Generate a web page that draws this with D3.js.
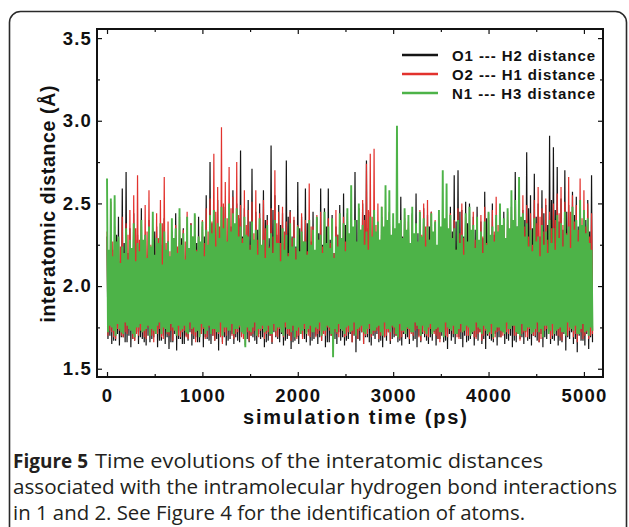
<!DOCTYPE html>
<html><head><meta charset="utf-8">
<script src="https://cdn.jsdelivr.net/npm/d3@7/dist/d3.min.js"></script>
<style>
html,body{margin:0;padding:0;background:#fff;}
svg{display:block;}
</style></head>
<body>
<svg id="chart" width="629" height="527"></svg>
<script>
// ---------- data ----------
const xTicks = [0, 1000, 2000, 3000, 4000, 5000];
const yTicks = [1.5, 2.0, 2.5, 3.0, 3.5];
const seriesNames = ["O1 --- H2 distance", "O2 --- H1 distance", "N1 --- H3 distance"];
const seriesColors = ["#151515", "#e2322d", "#4db348"];
const binStep = 20; // ps between successive peak/trough pairs

// O1---H2 : local maximum / minimum in each 20 ps bin
const o1Peaks = [2.30,2.18,2.38,2.22,2.27,2.31,2.42,2.15,2.59,2.26,2.69,2.20,2.35,2.12,2.44,2.28,2.31,2.17,2.47,2.24,
2.29,2.14,2.40,2.21,2.25,2.33,2.36,2.16,2.30,2.25,2.41,2.19,2.27,2.13,2.33,2.23,2.44,2.18,2.26,2.29,
2.35,2.15,2.29,2.22,2.38,2.17,2.31,2.26,2.42,2.20,2.36,2.30,2.55,2.24,2.75,2.38,2.46,2.21,2.52,2.33,
2.40,2.19,2.48,2.27,2.44,2.36,2.58,2.22,2.50,2.41,2.82,2.30,2.47,2.25,2.52,2.39,2.71,2.28,2.45,2.34,
2.50,2.23,2.58,2.40,2.43,2.29,2.85,2.46,2.55,2.31,2.49,2.37,2.44,2.26,2.76,2.42,2.46,2.30,2.40,2.24,
2.63,2.35,2.42,2.21,2.59,2.38,2.38,2.27,2.45,2.19,2.41,2.32,2.59,2.25,2.47,2.36,2.59,2.28,2.43,2.20,
2.36,2.31,2.49,2.24,2.56,2.37,2.44,2.26,2.38,2.33,2.69,2.40,2.47,2.29,2.50,2.43,2.76,2.35,2.45,2.27,
2.40,2.21,2.33,2.18,2.42,2.25,2.37,2.16,2.45,2.23,2.31,2.14,2.39,2.22,2.54,2.30,2.41,2.19,2.35,2.26,
2.44,2.17,2.56,2.32,2.40,2.21,2.47,2.28,2.43,2.36,2.45,2.20,2.38,2.15,2.32,2.24,2.41,2.18,2.36,2.27,
2.48,2.33,2.67,2.39,2.70,2.45,2.46,2.30,2.51,2.38,2.50,2.26,2.42,2.34,2.48,2.22,2.39,2.29,2.57,2.41,
2.44,2.25,2.50,2.31,2.41,2.20,2.37,2.27,2.45,2.18,2.40,2.33,2.48,2.24,2.69,2.36,2.52,2.28,2.46,2.40,
2.81,2.47,2.55,2.35,2.68,2.42,2.50,2.30,2.58,2.44,2.49,2.37,2.91,2.52,2.84,2.46,2.72,2.39,2.53,2.34,
2.70,2.45,2.49,2.31,2.57,2.43,2.54,2.36,2.47,2.29,2.45,2.40,2.52,2.33,2.67];
const o1Troughs = [1.68,1.70,1.65,1.67,1.67,1.71,1.64,1.69,1.69,1.66,1.66,1.70,1.63,1.68,1.67,1.72,1.65,1.69,1.68,1.66,
1.64,1.70,1.66,1.68,1.69,1.71,1.63,1.67,1.67,1.70,1.65,1.69,1.62,1.66,1.66,1.71,1.61,1.68,1.68,1.65,
1.65,1.70,1.67,1.72,1.64,1.68,1.69,1.66,1.66,1.71,1.63,1.69,1.68,1.67,1.65,1.70,1.67,1.68,1.61,1.72,
1.66,1.69,1.64,1.67,1.68,1.71,1.65,1.69,1.67,1.66,1.70,1.72,1.64,1.68,1.66,1.70,1.69,1.67,1.65,1.71,
1.68,1.69,1.63,1.66,1.67,1.70,1.65,1.72,1.69,1.68,1.66,1.71,1.64,1.67,1.68,1.70,1.62,1.66,1.67,1.69,
1.65,1.71,1.69,1.68,1.66,1.72,1.64,1.67,1.68,1.70,1.65,1.69,1.67,1.71,1.63,1.66,1.66,1.70,1.69,1.68,
1.65,1.72,1.67,1.69,1.64,1.67,1.68,1.71,1.66,1.70,1.60,1.68,1.67,1.72,1.65,1.69,1.69,1.66,1.64,1.70,
1.68,1.71,1.66,1.67,1.63,1.69,1.67,1.72,1.65,1.68,1.69,1.70,1.66,1.67,1.64,1.71,1.68,1.69,1.65,1.72,
1.67,1.68,1.63,1.70,1.66,1.71,1.69,1.67,1.65,1.69,1.67,1.72,1.64,1.68,1.68,1.70,1.66,1.67,1.62,1.71,
1.67,1.69,1.65,1.72,1.69,1.68,1.63,1.70,1.66,1.67,1.68,1.71,1.64,1.69,1.67,1.72,1.65,1.68,1.62,1.70,
1.68,1.67,1.66,1.71,1.64,1.69,1.69,1.72,1.65,1.68,1.67,1.70,1.63,1.67,1.66,1.71,1.68,1.69,1.65,1.72,
1.67,1.68,1.64,1.70,1.69,1.67,1.66,1.71,1.63,1.69,1.68,1.72,1.65,1.68,1.67,1.70,1.64,1.67,1.66,1.71,
1.61,1.69,1.68,1.72,1.65,1.68,1.60,1.70,1.67,1.67,1.64,1.71,1.62,1.69,1.66];

// O2---H1
const o2Peaks = [2.33,2.20,2.51,2.27,2.36,2.16,2.29,2.24,2.42,2.19,2.38,2.31,2.46,2.22,2.55,2.35,2.67,2.28,2.40,2.18,
2.49,2.33,2.58,2.25,2.35,2.17,2.44,2.29,2.52,2.38,2.66,2.26,2.39,2.21,2.31,2.15,2.37,2.24,2.42,2.19,
2.34,2.27,2.45,2.18,2.38,2.30,2.43,2.22,2.30,2.16,2.40,2.26,2.47,2.33,2.53,2.39,2.80,2.45,2.60,2.36,
2.96,2.50,2.63,2.41,2.72,2.47,2.54,2.34,2.75,2.43,2.49,2.29,2.58,2.37,2.46,2.25,2.51,2.32,2.58,2.28,
2.44,2.21,2.52,2.35,2.40,2.24,2.47,2.30,2.70,2.38,2.45,2.26,2.48,2.33,2.39,2.20,2.45,2.29,2.42,2.23,
2.37,2.18,2.44,2.27,2.40,2.21,2.62,2.36,2.36,2.19,2.43,2.28,2.45,2.24,2.34,2.17,2.41,2.26,2.38,2.20,
2.46,2.31,2.35,2.22,2.42,2.27,2.37,2.18,2.44,2.29,2.39,2.23,2.47,2.34,2.52,2.40,2.74,2.46,2.80,2.42,
2.83,2.37,2.50,2.28,2.48,2.33,2.38,2.21,2.44,2.26,2.36,2.19,2.41,2.24,2.33,2.17,2.45,2.29,2.39,2.22,
2.43,2.27,2.37,2.20,2.46,2.31,2.50,2.36,2.52,2.28,2.45,2.23,2.40,2.18,2.35,2.25,2.42,2.21,2.38,2.16,
2.44,2.27,2.40,2.22,2.47,2.32,2.50,2.29,2.41,2.24,2.37,2.19,2.45,2.28,2.39,2.23,2.43,2.30,2.48,2.26,
2.40,2.21,2.46,2.33,2.54,2.37,2.42,2.25,2.38,2.20,2.45,2.29,2.41,2.24,2.47,2.31,2.43,2.27,2.55,2.36,
2.49,2.30,2.44,2.25,2.52,2.38,2.60,2.42,2.47,2.33,2.53,2.28,2.45,2.35,2.50,2.40,2.56,2.44,2.60,2.37,
2.51,2.32,2.66,2.45,2.55,2.39,2.49,2.34,2.65,2.41,2.58,2.36,2.50,2.30,2.44];
const o2Troughs = [1.70,1.73,1.72,1.69,1.68,1.74,1.73,1.70,1.69,1.72,1.71,1.75,1.74,1.68,1.67,1.71,1.70,1.73,1.72,1.69,
1.68,1.75,1.73,1.70,1.66,1.72,1.71,1.74,1.69,1.68,1.74,1.71,1.70,1.73,1.67,1.76,1.72,1.70,1.69,1.72,
1.73,1.69,1.68,1.74,1.71,1.70,1.66,1.73,1.70,1.71,1.74,1.68,1.69,1.75,1.72,1.70,1.67,1.73,1.71,1.69,
1.65,1.72,1.70,1.74,1.73,1.70,1.68,1.71,1.72,1.75,1.69,1.68,1.74,1.72,1.67,1.70,1.71,1.73,1.70,1.69,
1.73,1.74,1.68,1.71,1.72,1.70,1.66,1.73,1.70,1.69,1.74,1.72,1.69,1.75,1.71,1.70,1.67,1.73,1.73,1.68,
1.70,1.71,1.68,1.74,1.72,1.70,1.69,1.72,1.75,1.69,1.71,1.73,1.67,1.71,1.70,1.75,1.73,1.70,1.68,1.72,
1.71,1.69,1.74,1.73,1.69,1.70,1.72,1.74,1.66,1.71,1.70,1.68,1.73,1.72,1.65,1.70,1.71,1.74,1.69,1.71,
1.72,1.73,1.68,1.70,1.74,1.69,1.70,1.72,1.67,1.75,1.71,1.70,1.73,1.68,1.69,1.72,1.72,1.74,1.68,1.71,
1.70,1.73,1.74,1.69,1.67,1.72,1.71,1.70,1.69,1.74,1.73,1.71,1.70,1.68,1.66,1.73,1.72,1.70,1.69,1.75,
1.74,1.71,1.71,1.69,1.68,1.72,1.72,1.74,1.70,1.70,1.75,1.73,1.69,1.68,1.71,1.72,1.67,1.70,1.73,1.74,
1.70,1.71,1.68,1.69,1.72,1.73,1.69,1.70,1.74,1.72,1.71,1.75,1.76,1.70,1.70,1.73,1.67,1.71,1.72,1.69,
1.69,1.74,1.73,1.70,1.70,1.72,1.66,1.68,1.71,1.73,1.74,1.71,1.68,1.70,1.72,1.74,1.70,1.69,1.67,1.72,
1.71,1.70,1.73,1.74,1.69,1.71,1.66,1.73,1.72,1.68,1.70,1.72,1.68,1.70,1.71];

// N1---H3
const n1Peaks = [2.65,2.22,2.53,2.18,2.55,2.27,2.30,2.14,2.24,2.20,2.35,2.16,2.28,2.23,2.38,2.15,2.26,2.21,2.40,2.28,
2.31,2.17,2.36,2.24,2.45,2.19,2.29,2.26,2.38,2.13,2.33,2.22,2.27,2.18,2.41,2.29,2.35,2.20,2.47,2.25,
2.32,2.16,2.42,2.23,2.37,2.30,2.44,2.21,2.30,2.27,2.39,2.18,2.34,2.25,2.43,2.32,2.46,2.24,2.38,2.29,
2.48,2.35,2.41,2.27,2.50,2.33,2.44,2.38,2.47,2.30,2.36,2.26,2.42,2.31,2.30,2.22,2.39,2.28,2.34,2.19,
2.41,2.25,2.28,2.17,2.37,2.23,2.32,2.20,2.40,2.26,2.26,2.15,2.35,2.22,2.31,2.18,2.38,2.24,2.29,2.16,
2.36,2.21,2.33,2.27,2.27,2.19,2.40,2.25,2.34,2.22,2.42,2.28,2.31,2.20,2.45,2.26,2.36,2.23,2.41,2.17,
2.30,2.24,2.44,2.29,2.38,2.21,2.47,2.32,2.61,2.36,2.40,2.27,2.50,2.34,2.37,2.25,2.33,2.22,2.42,2.30,
2.46,2.33,2.39,2.28,2.48,2.36,2.61,2.40,2.58,2.31,2.44,2.35,2.97,2.38,2.40,2.29,2.47,2.34,2.43,2.26,
2.48,2.32,2.38,2.27,2.45,2.30,2.41,2.24,2.36,2.28,2.44,2.33,2.39,2.25,2.46,2.36,2.70,2.41,2.62,2.35,
2.43,2.29,2.35,2.22,2.40,2.26,2.31,2.19,2.44,2.27,2.48,2.34,2.37,2.23,2.42,2.28,2.33,2.20,2.39,2.25,
2.45,2.31,2.36,2.27,2.43,2.33,2.50,2.37,2.41,2.29,2.47,2.35,2.58,2.40,2.52,2.36,2.66,2.42,2.44,2.30,
2.38,2.24,2.34,2.21,2.41,2.27,2.30,2.18,2.37,2.25,2.33,2.20,2.40,2.26,2.35,2.22,2.43,2.29,2.38,2.24,
2.45,2.31,2.36,2.23,2.48,2.34,2.40,2.27,2.52,2.37,2.46,2.32,2.41,2.26,2.22];
const n1Troughs = [1.72,1.76,1.75,1.73,1.70,1.77,1.74,1.72,1.71,1.78,1.76,1.74,1.73,1.71,1.69,1.75,1.75,1.77,1.72,1.73,
1.74,1.76,1.70,1.74,1.73,1.71,1.76,1.78,1.71,1.75,1.74,1.72,1.72,1.77,1.75,1.73,1.70,1.76,1.73,1.74,
1.76,1.72,1.71,1.78,1.74,1.75,1.72,1.73,1.69,1.77,1.75,1.71,1.73,1.76,1.71,1.74,1.74,1.72,1.72,1.78,
1.70,1.75,1.75,1.73,1.73,1.77,1.71,1.74,1.74,1.76,1.72,1.71,1.63,1.75,1.73,1.72,1.75,1.78,1.70,1.74,
1.74,1.76,1.72,1.73,1.76,1.71,1.71,1.77,1.73,1.75,1.75,1.72,1.70,1.78,1.74,1.74,1.72,1.76,1.69,1.73,
1.75,1.71,1.73,1.77,1.71,1.74,1.76,1.72,1.72,1.75,1.74,1.78,1.70,1.73,1.73,1.76,1.75,1.71,1.57,1.74,
1.72,1.77,1.74,1.73,1.71,1.75,1.76,1.72,1.73,1.78,1.70,1.74,1.75,1.76,1.72,1.71,1.74,1.77,1.71,1.73,
1.73,1.75,1.76,1.72,1.70,1.78,1.74,1.74,1.72,1.76,1.75,1.71,1.69,1.77,1.73,1.73,1.71,1.75,1.74,1.72,
1.72,1.78,1.76,1.74,1.70,1.76,1.73,1.71,1.75,1.77,1.71,1.73,1.74,1.75,1.72,1.72,1.69,1.78,1.75,1.74,
1.73,1.76,1.71,1.71,1.74,1.77,1.72,1.73,1.76,1.75,1.70,1.72,1.73,1.78,1.75,1.74,1.71,1.76,1.74,1.71,
1.72,1.77,1.69,1.73,1.75,1.75,1.73,1.72,1.71,1.78,1.74,1.74,1.76,1.76,1.72,1.71,1.70,1.77,1.73,1.73,
1.75,1.75,1.71,1.72,1.74,1.78,1.72,1.74,1.69,1.76,1.76,1.71,1.73,1.77,1.71,1.73,1.74,1.75,1.72,1.72,
1.70,1.78,1.75,1.74,1.73,1.76,1.71,1.71,1.74,1.77,1.72,1.73,1.70,1.75,1.73];

const xLabel = "simulation time (ps)";
const yLabel = "interatomic distance (Å)";
const captionBold = "Figure 5";
const captionLines = [
  "Time evolutions of the interatomic distances",
  "associated with the intramolecular hydrogen bond interactions",
  "in 1 and 2. See Figure 4 for the identification of atoms."
];

// ---------- build series ----------
function buildSeries(peaks, troughs) {
  const out = [];
  peaks.forEach((p, k) => {
    out.push({t: k * binStep, v: p});
    if (k < troughs.length) out.push({t: k * binStep + binStep / 2, v: troughs[k]});
  });
  return out;
}
const allSeries = [
  buildSeries(o1Peaks, o1Troughs),
  buildSeries(o2Peaks, o2Troughs),
  buildSeries(n1Peaks, n1Troughs)
];

// ---------- layout ----------
const svg = d3.select("#chart");
const plot = {left: 97, top: 29, right: 603, bottom: 377};
const x = d3.scaleLinear().domain([-105, 5200]).range([plot.left, plot.right]);
const y = d3.scaleLinear().domain([1.45, 3.555]).range([plot.bottom, plot.top]);
const FONT = "Liberation Sans, Roboto, sans-serif";

// outer rounded frame
svg.append("rect")
  .attr("x", 9.5).attr("y", 11.5).attr("width", 617).attr("height", 560)
  .attr("rx", 11).attr("ry", 11)
  .attr("fill", "none").attr("stroke", "#2a2a2a").attr("stroke-width", 1.6);

// clip
svg.append("clipPath").attr("id", "clip").append("rect")
  .attr("x", plot.left).attr("y", plot.top)
  .attr("width", plot.right - plot.left).attr("height", plot.bottom - plot.top);

const line = d3.line().x(d => x(d.t)).y(d => y(d.v));
const widths = [1.2, 1.2, 1.9];
const g = svg.append("g").attr("clip-path", "url(#clip)");
allSeries.forEach((s, i) => {
  g.append("path").datum(s)
    .attr("d", line)
    .attr("fill", "none")
    .attr("stroke", seriesColors[i])
    .attr("stroke-width", widths[i])
    .attr("stroke-linejoin", "bevel");
});

// axes
const xMinor = d3.range(500, 5200, 1000);
const yMinor = [1.75, 2.25, 2.75, 3.25];
function styleAxis(sel) {
  sel.select(".domain").remove();
  sel.selectAll("line").attr("stroke", "#111").attr("stroke-width", 1.2);
  sel.selectAll("text")
    .style("font-family", FONT).style("font-weight", "bold")
    .style("font-size", "18.5px").attr("fill", "#111")
    .style("letter-spacing", "1.2px");
}
svg.append("g").attr("transform", `translate(0,${plot.bottom})`)
  .call(d3.axisBottom(x).tickValues(xTicks).tickSize(-5).tickPadding(12).tickFormat(d3.format("d")))
  .call(styleAxis);
svg.append("g").attr("transform", `translate(0,${plot.bottom})`)
  .call(d3.axisBottom(x).tickValues(xMinor).tickSize(-3).tickFormat(""))
  .call(styleAxis);
svg.append("g").attr("transform", `translate(0,${plot.top})`)
  .call(d3.axisTop(x).tickValues(xTicks).tickSize(-5).tickFormat(""))
  .call(styleAxis);
svg.append("g").attr("transform", `translate(0,${plot.top})`)
  .call(d3.axisTop(x).tickValues(xMinor).tickSize(-3).tickFormat(""))
  .call(styleAxis);
svg.append("g").attr("transform", `translate(${plot.left},0)`)
  .call(d3.axisLeft(y).tickValues(yTicks).tickSize(-5).tickPadding(5).tickFormat(d3.format(".1f")))
  .call(styleAxis);
svg.append("g").attr("transform", `translate(${plot.left},0)`)
  .call(d3.axisLeft(y).tickValues(yMinor).tickSize(-3).tickFormat(""))
  .call(styleAxis);
svg.append("g").attr("transform", `translate(${plot.right},0)`)
  .call(d3.axisRight(y).tickValues(yTicks).tickSize(-5).tickFormat(""))
  .call(styleAxis);
svg.append("g").attr("transform", `translate(${plot.right},0)`)
  .call(d3.axisRight(y).tickValues(yMinor).tickSize(-3).tickFormat(""))
  .call(styleAxis);

// plot box
svg.append("rect")
  .attr("x", plot.left).attr("y", plot.top)
  .attr("width", plot.right - plot.left).attr("height", plot.bottom - plot.top)
  .attr("fill", "none").attr("stroke", "#111").attr("stroke-width", 2);

// axis titles
svg.append("text")
  .attr("x", 355).attr("y", 424).attr("text-anchor", "middle")
  .style("font-family", FONT).style("font-weight", "bold").style("font-size", "20px")
  .attr("textLength", 224).attr("lengthAdjust", "spacing")
  .attr("fill", "#111").text(xLabel);
svg.append("text")
  .attr("transform", "translate(55,204) rotate(-90)").attr("text-anchor", "middle")
  .style("font-family", FONT).style("font-weight", "bold").style("font-size", "19.5px")
  .attr("textLength", 237).attr("lengthAdjust", "spacing")
  .attr("fill", "#111").text(yLabel);

// legend
const legendY = [55, 74, 93];
seriesNames.forEach((name, i) => {
  svg.append("line")
    .attr("x1", 402).attr("x2", 438).attr("y1", legendY[i]).attr("y2", legendY[i])
    .attr("stroke", seriesColors[i]).attr("stroke-width", 2.5);
  svg.append("text")
    .attr("x", 452).attr("y", legendY[i] + 5.5)
    .style("font-family", FONT).style("font-weight", "bold").style("font-size", "15px")
    .attr("textLength", 143).attr("lengthAdjust", "spacing")
    .attr("fill", "#111").text(name);
});

// caption
const capFont = "'Open Sans', 'Noto Sans', sans-serif";
const capY = [468, 494, 520];
const capX = [95, 13, 13];
const capEnd = [543, 617, 525];
svg.append("text")
  .attr("x", 13).attr("y", capY[0])
  .style("font-family", capFont).style("font-weight", "bold").style("font-size", "20px")
  .attr("textLength", 75).attr("lengthAdjust", "spacingAndGlyphs")
  .attr("fill", "#231f20").text(captionBold);
captionLines.forEach((txt, i) => {
  svg.append("text")
    .attr("x", capX[i]).attr("y", capY[i])
    .style("font-family", capFont).style("font-size", "20px")
    .attr("textLength", capEnd[i] - capX[i]).attr("lengthAdjust", "spacingAndGlyphs")
    .attr("fill", "#231f20").text(txt);
});
</script>
</body></html>
